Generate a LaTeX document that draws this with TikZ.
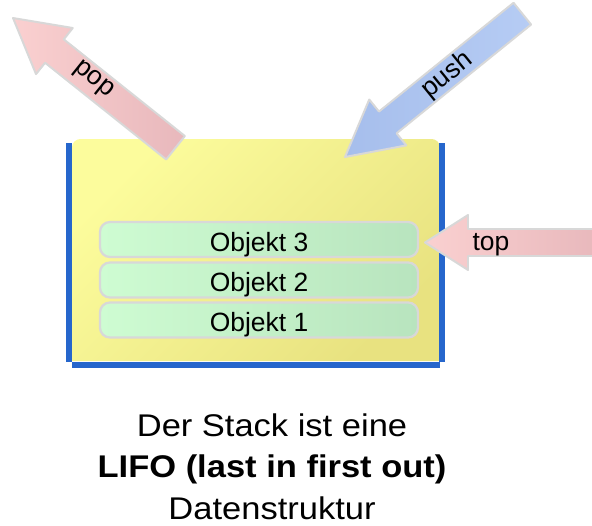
\documentclass[tikz,border=0pt]{standalone}
\usepackage{fontspec}
\setmainfont{Liberation Sans}
\newfontfamily\capfont[FakeStretch=1.1]{Liberation Sans}
\usepackage{tikz}
\definecolor{boxA}{RGB}{252,252,156}
\definecolor{boxB}{RGB}{232,226,128}
\definecolor{wallblue}{RGB}{38,102,204}
\definecolor{objA}{RGB}{206,252,210}
\definecolor{objB}{RGB}{184,228,190}
\definecolor{rimgray}{RGB}{216,216,216}
\definecolor{popA}{RGB}{250,208,208}
\definecolor{popB}{RGB}{232,184,188}
\definecolor{pushA}{RGB}{182,204,244}
\definecolor{pushB}{RGB}{166,190,236}
\newcommand{\arrowpath}[4]{(0,0) -- (#1,#2/2) -- (#1,#3/2) -- (#4,#3/2) -- (#4,-#3/2) -- (#1,-#3/2) -- (#1,-#2/2) -- cycle}

\begin{document}
\begin{tikzpicture}[x=0.025cm,y=-0.025cm,
	objbox/.style={draw=rimgray,line width=1.6pt,rounded corners=0.25cm,left color=objA,right color=objB,minimum width=7.95cm,minimum height=0.875cm,inner sep=0pt,text height=0.575cm,text depth=0cm,font=\fontsize{18.8}{22}\selectfont},
	arrowbox/.style={draw=rimgray,line width=1.4pt,line join=round},
	arrowtext/.style={inner sep=0pt,font=\fontsize{18.8}{22}\selectfont},
	captext/.style={anchor=base,inner sep=0pt,font=\capfont\fontsize{22.3}{26}\selectfont}]
	\useasboundingbox (0,0) rectangle (592,526);
	\path[top color=boxA,bottom color=boxB,shading angle=45] (72,361) [rounded corners=6]-- (72,139) -- (440,139) [sharp corners]-- (440,361) -- cycle;
	\draw[wallblue,line width=4pt] (69,143)--(69,362);
	\draw[wallblue,line width=4pt] (442,143)--(442,362);
	\draw[wallblue,line width=4pt] (72,365)--(440,365);
	\node[objbox] (obj3) at (259,239.5){Objekt 3};
	\node[objbox] (obj2) at (259,280){Objekt 2};
	\node[objbox] (obj1) at (259,320){Objekt 1};
	\begin{scope}[shift={(13,18)},rotate=-38.6]
	\draw[arrowbox,left color=popA,right color=popB] \arrowpath{53}{59}{30}{208};
	\node[arrowtext,rotate=-38.6] (pop) at (101.5,-1.6){pop};
	\end{scope}
	\begin{scope}[shift={(345,157)},rotate=38.95]
	\draw[arrowbox,left color=pushB,right color=pushA] \arrowpath{55}{59}{28}{228};
	\node[arrowtext,rotate=38.95] (push) at (131,0.7){push};
	\end{scope}
	\begin{scope}[shift={(425,242.5)}]
	\draw[arrowbox,left color=popA,right color=popB] \arrowpath{43}{55}{27}{175};
	\node[arrowtext] (top) at (66,2.5){top};
	\end{scope}
	\node[captext] (line1) at (272,436){Der Stack ist eine};
	\node[captext] (line2) at (272,477.5){\bfseries LIFO (last in first out)};
	\node[captext] (line3) at (272,519.5){Datenstruktur};
\end{tikzpicture}
\end{document}
